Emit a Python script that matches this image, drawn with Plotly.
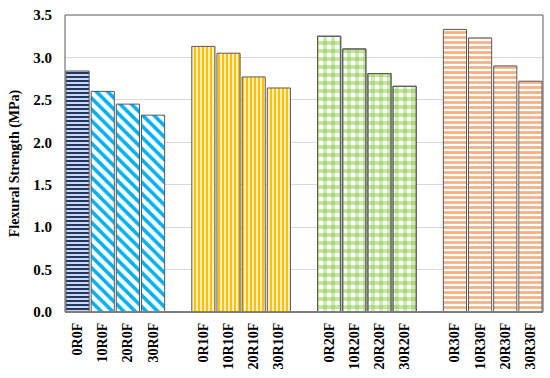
import plotly.graph_objects as go

# ---- data ----
categories = ["0R0F", "10R0F", "20R0F", "30R0F",
              "0R10F", "10R10F", "20R10F", "30R10F",
              "0R20F", "10R20F", "20R20F", "30R20F",
              "0R30F", "10R30F", "20R30F", "30R30F"]
strength = [2.84, 2.60, 2.45, 2.32,
            3.13, 3.05, 2.77, 2.64,
            3.25, 3.10, 2.81, 2.66,
            3.33, 3.23, 2.90, 2.72]
y_ticks = [0.0, 0.5, 1.0, 1.5, 2.0, 2.5, 3.0, 3.5]

# ---- styles (per bar) ----
style_of = ["ref", "blue", "blue", "blue",
            "yellow", "yellow", "yellow", "yellow",
            "green", "green", "green", "green",
            "orange", "orange", "orange", "orange"]
styles = {
    "ref":    dict(shape="-",  fg="#1f3864", bg="#d0d8e8", size=4, sol=0.5),
    "blue":   dict(shape="\\", fg="#00b0f0", bg="#ffffff", size=8, sol=0.45),
    "yellow": dict(shape="|",  fg="#ffc000", bg="#ffffff", size=4, sol=0.62),
    "green":  dict(shape="-",  fg="#c4e6a0", bg="#ffffff", size=8, sol=0.5),
    "orange": dict(shape="-",  fg="#f4b183", bg="#ffffff", size=5, sol=0.55),
}
# second layer for the plaid
green_overlay = dict(shape="|", fg="rgba(130,200,60,0.75)", size=8, sol=0.5)

# positions: one empty slot between groups of four
xpos = [i + i // 4 for i in range(len(categories))]

fig = go.Figure()
for name, st in styles.items():
    idx = [i for i, s in enumerate(style_of) if s == name]
    fig.add_trace(go.Bar(
        x=[xpos[i] for i in idx], y=[strength[i] for i in idx],
        width=0.92,
        marker=dict(
            color=st["bg"],
            line=dict(color="#595959", width=1),
            pattern=dict(shape=st["shape"], fgcolor=st["fg"], bgcolor=st["bg"],
                         size=st["size"], solidity=st["sol"], fillmode="replace"),
        ),
        showlegend=False, hoverinfo="skip",
    ))
    if name == "green":
        fig.add_trace(go.Bar(
            x=[xpos[i] for i in idx], y=[strength[i] for i in idx],
            width=0.92,
            marker=dict(
                color="rgba(0,0,0,0)",
                line=dict(color="#595959", width=1),
                pattern=dict(shape=green_overlay["shape"], fgcolor=green_overlay["fg"],
                             size=green_overlay["size"], solidity=green_overlay["sol"],
                             fillmode="overlay"),
            ),
            showlegend=False, hoverinfo="skip",
        ))

font_family = "Liberation Serif, Times New Roman, serif"
fig.update_layout(
    width=550, height=378,
    margin=dict(l=65, r=7, t=12, b=66),
    paper_bgcolor="white", plot_bgcolor="white",
    barmode="overlay",
    font=dict(family=font_family, color="black"),
)
fig.update_xaxes(
    range=[-0.5, 18.5],
    tickmode="array", tickvals=xpos, ticktext=[f"<b>{c}</b>" for c in categories],
    tickangle=-90, tickfont=dict(size=14, family=font_family),
    showgrid=False, showline=False, ticks="", ticklabelstandoff=7,
)
fig.update_yaxes(
    range=[0, 3.5],
    tickmode="array", tickvals=y_ticks, ticktext=[f"<b>{v:.1f}</b>" for v in y_ticks],
    tickfont=dict(size=15, family=font_family),
    showgrid=True, gridcolor="#d9d9d9", gridwidth=1,
    showline=False, ticks="", ticklabelstandoff=12, zeroline=False,
    title=dict(text="<b>Flexural Strength (MPa)</b>", font=dict(size=14, family=font_family), standoff=10),
)
# frame
fig.add_shape(type="rect", xref="paper", yref="paper", x0=0, y0=0, x1=1, y1=1,
              line=dict(color="#595959", width=1), layer="above")
fig.add_shape(type="line", xref="paper", yref="paper", x0=0, y0=0, x1=1, y1=0,
              line=dict(color="#7f7f7f", width=2), layer="above")

fig.write_html("out.html", config={"displayModeBar": False},
               post_script="document.body.style.margin='0';")
